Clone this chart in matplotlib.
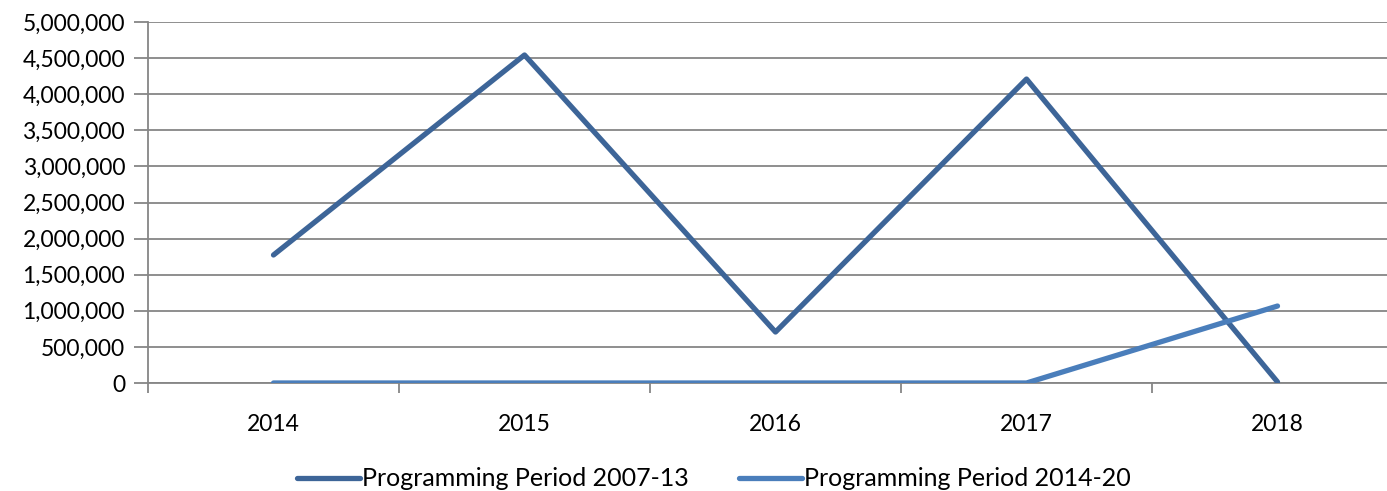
import matplotlib

matplotlib.use("Agg")
import matplotlib.pyplot as plt
from matplotlib.ticker import FuncFormatter, MultipleLocator
import numpy as np

YEARS = ["2014", "2015", "2016", "2017", "2018"]
PERIOD_2007_13 = [1773000, 4543000, 706000, 4210000, 15000]
PERIOD_2014_20 = [0, 0, 0, 0, 1066000]
SERIES_NAMES = ["Programming Period 2007-13", "Programming Period 2014-20"]
COLORS = ["#3D6598", "#4A7EBB"]
GRID = "#868686"

plt.rcParams["font.family"] = ["Lato", "DejaVu Sans"]

fig = plt.figure(figsize=(13.87, 4.91), dpi=100)
ax = fig.add_axes([148 / 1387, 1 - 383 / 491, (1403 - 148) / 1387, (383 - 22) / 491])

x = np.arange(len(YEARS))
for values, name, color in zip([PERIOD_2007_13, PERIOD_2014_20], SERIES_NAMES, COLORS):
    ax.plot(x, values, color=color, lw=3.8, solid_capstyle="round", label=name, zorder=3)

ax.set_xlim(-0.5, len(YEARS) - 0.5)
ax.set_ylim(0, 5000000)
ax.yaxis.set_major_locator(MultipleLocator(500000))
ax.yaxis.set_major_formatter(FuncFormatter(lambda v, _: f"{int(v):,}"))
ax.grid(axis="y", color=GRID, lw=1.3, zorder=1)

# Category labels sit between boundary tick marks, Excel style.
ax.set_xticks(x)
ax.set_xticklabels(YEARS)
ax.tick_params(axis="x", which="major", length=0, pad=22, labelsize=16.5, colors="black")
ax.set_xticks(np.arange(len(YEARS) + 1) - 0.5, minor=True)
ax.tick_params(axis="x", which="minor", length=7, width=1.3, color=GRID)
ax.tick_params(axis="y", length=10, width=1.3, color=GRID, labelsize=16.5, pad=6.5)

for side in ("top", "right"):
    ax.spines[side].set_visible(False)
ax.spines["left"].set_color(GRID)
ax.spines["left"].set_linewidth(1.3)
ax.spines["bottom"].set_color(GRID)
ax.spines["bottom"].set_linewidth(1.3)

fig.legend(
    loc="center",
    bbox_to_anchor=(714 / 1387, 1 - 479 / 491),
    ncol=2,
    frameon=False,
    fontsize=18,
    handlelength=2.5,
    handletextpad=0.1,
    columnspacing=2.0,
)

fig.savefig("out.png", dpi=100)
